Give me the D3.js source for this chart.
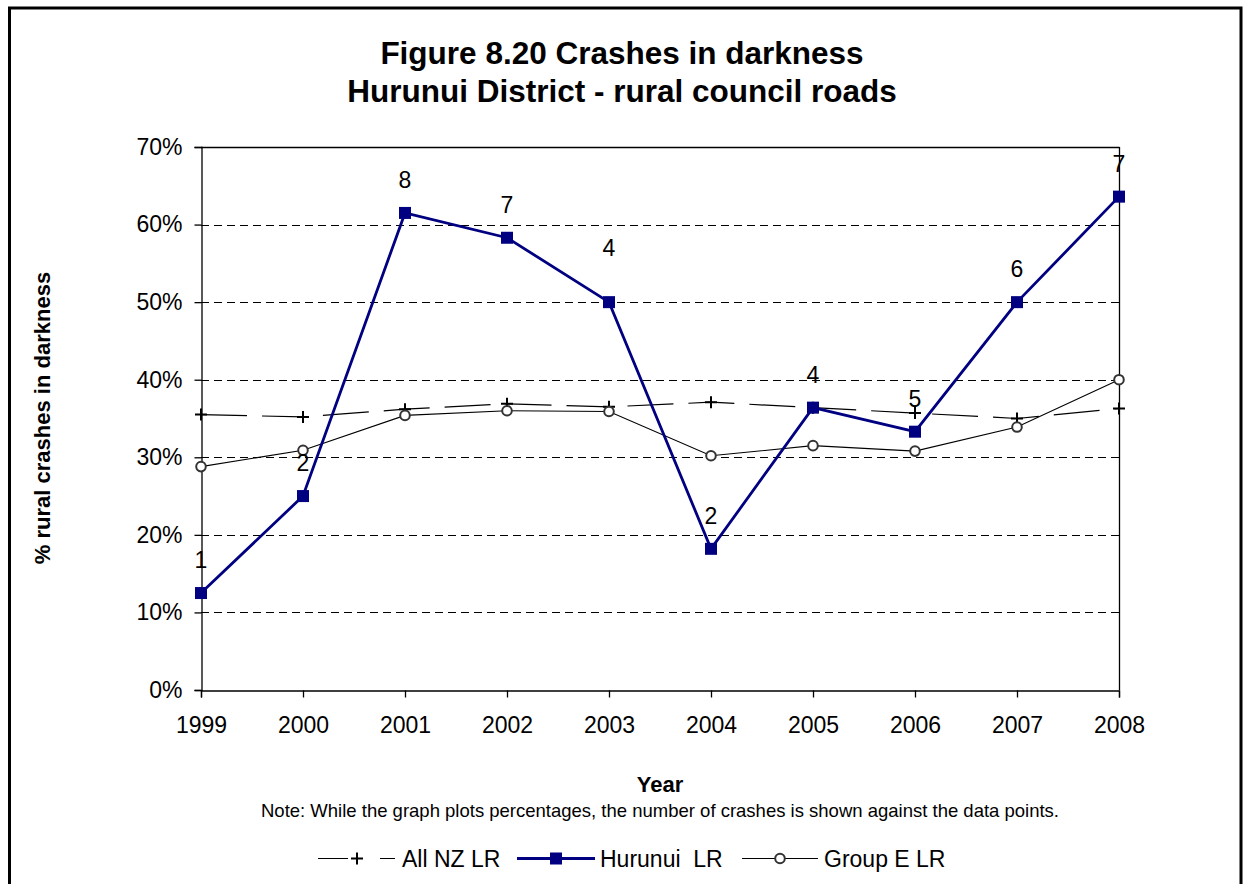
<!DOCTYPE html>
<html>
<head>
<meta charset="utf-8">
<script src="https://cdn.jsdelivr.net/npm/d3@7"></script>
<style>
  html, body { margin: 0; padding: 0; background: #fff; }
  svg { display: block; font-family: "Liberation Sans", Arial, sans-serif; }
</style>
</head>
<body>
<svg id="chart" width="1243" height="884"></svg>
<script>
// ---- data ----
const years = ["1999","2000","2001","2002","2003","2004","2005","2006","2007","2008"];
const allNZ   = [0.355, 0.352, 0.362, 0.369, 0.365, 0.371, 0.364, 0.357, 0.350, 0.363];
const hurunui = [0.125, 0.250, 0.615, 0.583, 0.500, 0.182, 0.364, 0.333, 0.500, 0.636];
const groupE  = [0.288, 0.309, 0.354, 0.360, 0.359, 0.302, 0.315, 0.308, 0.339, 0.400];
const hurunuiCounts = [1, 2, 8, 7, 4, 2, 4, 5, 6, 7];
const yTicks = [0, 0.1, 0.2, 0.3, 0.4, 0.5, 0.6, 0.7];
const seriesNames = ["All NZ LR", "Hurunui  LR", "Group E LR"];

const svg = d3.select("#chart");
const FONT = '"Liberation Sans", Arial, sans-serif';

// outer frame
svg.append("rect").attr("x", 9.5).attr("y", 8).attr("width", 1231.5).attr("height", 900)
  .attr("fill", "none").attr("stroke", "#000").attr("stroke-width", 3);

// title
const title = svg.append("text").attr("text-anchor", "middle")
  .attr("font-weight", "bold").attr("font-size", 31.5).attr("fill", "#000");
title.append("tspan").attr("x", 622).attr("y", 64).text("Figure 8.20 Crashes in darkness");
title.append("tspan").attr("x", 622).attr("y", 102).text("Hurunui District - rural council roads");

// scales
const x = d3.scalePoint().domain(years).range([201, 1119]);
const y = d3.scaleLinear().domain([0, 0.7]).range([690, 147]);

// gridlines
svg.append("g").selectAll("line").data(yTicks.filter(d => d > 0 && d < 0.7)).join("line")
  .attr("x1", 201).attr("x2", 1119)
  .attr("y1", d => Math.round(y(d)) + 0.5).attr("y2", d => Math.round(y(d)) + 0.5)
  .attr("stroke", "#000").attr("stroke-width", 1).attr("stroke-dasharray", "8,5");

// plot border top & right
svg.append("line").attr("x1", 201).attr("x2", 1119.5).attr("y1", y(0.7) + 0.5).attr("y2", y(0.7) + 0.5)
  .attr("stroke", "#000").attr("stroke-width", 1.3);
svg.append("line").attr("x1", 1119.5).attr("x2", 1119.5).attr("y1", y(0.7)).attr("y2", 690)
  .attr("stroke", "#000").attr("stroke-width", 1.3);

// axes
const yAxis = svg.append("g").attr("transform", "translate(201.5,0)")
  .call(d3.axisLeft(y).tickValues(yTicks).tickFormat(d3.format(".0%")).tickSize(7).tickPadding(12));
const xAxis = svg.append("g").attr("transform", "translate(0,690.5)")
  .call(d3.axisBottom(x).tickSize(7).tickPadding(19));
[yAxis, xAxis].forEach(a => {
  a.selectAll("path, line").attr("stroke", "#000").attr("stroke-width", 1.3);
  a.selectAll("text").attr("font-family", FONT).attr("font-size", 23).attr("fill", "#000");
});

// axis titles
svg.append("text").attr("x", 660).attr("y", 792).attr("text-anchor", "middle")
  .attr("font-weight", "bold").attr("font-size", 22).text("Year");
svg.append("text").attr("transform", "translate(50,418) rotate(-90)").attr("text-anchor", "middle")
  .attr("font-weight", "bold").attr("font-size", 22).text("% rural crashes in darkness");

// note
svg.append("text").attr("x", 660).attr("y", 817).attr("text-anchor", "middle")
  .attr("font-size", 18.5)
  .text("Note: While the graph plots percentages, the number of crashes is shown against the data points.");

const line = d3.line().x((d, i) => x(years[i])).y(d => y(d));

// All NZ LR
svg.append("path").datum(allNZ).attr("d", line).attr("fill", "none")
  .attr("stroke", "#000").attr("stroke-width", 1.2).attr("stroke-dasharray", "46,15");
const plus = (g, cx, cy) => g.append("path")
  .attr("d", `M${cx - 6},${cy}H${cx + 6}M${cx},${cy - 6}V${cy + 6}`)
  .attr("stroke", "#000").attr("stroke-width", 2).attr("fill", "none");
const gPlus = svg.append("g");
allNZ.forEach((v, i) => plus(gPlus, x(years[i]), y(v)));

// Group E LR
svg.append("path").datum(groupE).attr("d", line).attr("fill", "none")
  .attr("stroke", "#000").attr("stroke-width", 1.1);
svg.append("g").selectAll("circle").data(groupE).join("circle")
  .attr("cx", (d, i) => x(years[i])).attr("cy", d => y(d)).attr("r", 4.8)
  .attr("fill", "#fff").attr("stroke", "#333").attr("stroke-width", 2);

// Hurunui LR
svg.append("path").datum(hurunui).attr("d", line).attr("fill", "none")
  .attr("stroke", "#000080").attr("stroke-width", 2.8);
svg.append("g").selectAll("rect").data(hurunui).join("rect")
  .attr("x", (d, i) => x(years[i]) - 6).attr("y", d => y(d) - 6)
  .attr("width", 12).attr("height", 12).attr("fill", "#000080");

// data labels (counts)
svg.append("g").selectAll("text").data(hurunui).join("text")
  .attr("x", (d, i) => x(years[i]))
  .attr("y", (d, i) => y(d) - (i === 4 ? 46 : 25))
  .attr("text-anchor", "middle").attr("font-size", 23).attr("fill", "#000")
  .text((d, i) => hurunuiCounts[i]);

// legend
const ly = 858.5;
const leg = svg.append("g");
leg.append("line").attr("x1", 318).attr("x2", 395).attr("y1", ly).attr("y2", ly)
  .attr("stroke", "#000").attr("stroke-width", 1.2).attr("stroke-dasharray", "30,32,15,100");
plus(leg, 357, ly);
leg.append("text").attr("x", 402).attr("y", ly + 8).attr("font-size", 23).text(seriesNames[0]);

leg.append("line").attr("x1", 517).attr("x2", 595).attr("y1", ly).attr("y2", ly)
  .attr("stroke", "#000080").attr("stroke-width", 2.8);
leg.append("rect").attr("x", 550).attr("y", ly - 6).attr("width", 12).attr("height", 12).attr("fill", "#000080");
leg.append("text").attr("x", 600).attr("y", ly + 8).attr("font-size", 23)
  .attr("xml:space", "preserve").style("white-space", "pre").text(seriesNames[1]);

leg.append("line").attr("x1", 742).attr("x2", 818).attr("y1", ly).attr("y2", ly)
  .attr("stroke", "#000").attr("stroke-width", 1.1);
leg.append("circle").attr("cx", 780).attr("cy", ly).attr("r", 4.8)
  .attr("fill", "#fff").attr("stroke", "#333").attr("stroke-width", 2);
leg.append("text").attr("x", 824).attr("y", ly + 8).attr("font-size", 23).text(seriesNames[2]);
</script>
</body>
</html>
